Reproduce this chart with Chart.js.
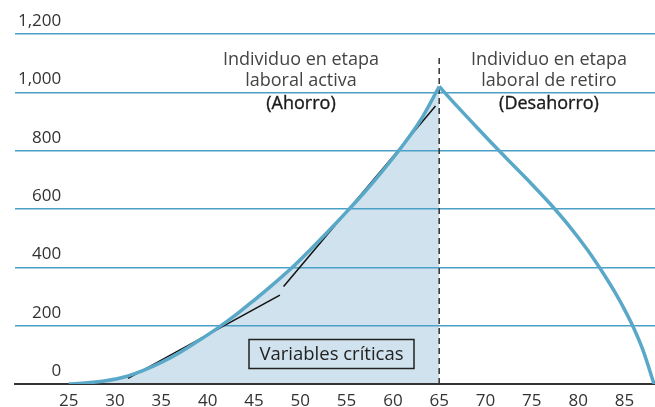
<!DOCTYPE html>
<html>
<head>
<meta charset="utf-8">
<script src="https://cdn.jsdelivr.net/npm/chart.js@4.4.1/dist/chart.umd.min.js"></script>
<style>
  html, body { margin: 0; padding: 0; background: #fff; }
  #wrap { width: 655px; height: 407px; }
</style>
</head>
<body>
<div id="wrap"><canvas id="grafico"></canvas></div>
<script>
// Etapa laboral activa (ahorro)
const edadesActiva = [25, 27, 29, 31, 33, 35, 37, 39, 41, 43, 45, 47, 49, 51, 53, 55, 57, 59, 61, 63, 65];
const ahorro       = [0, 4, 11, 24, 46, 74, 108, 148, 190, 236, 287, 340, 396, 458, 523, 590, 660, 735, 815, 905, 1020];

// Etapa de retiro (desahorro)
const edadesRetiro = [65, 67, 69, 71, 73, 75, 77, 79, 81, 83, 84, 85, 86, 87, 88.2];
const desahorro    = [1020, 950, 882, 815, 750, 685, 617, 543, 460, 365, 313, 256, 192, 116, 0];

// Rectas tangentes (variables críticas)
const tangente1X = [31.4, 47.8];
const tangente1Y = [19, 305];
const tangente2X = [48.2, 64.6];
const tangente2Y = [334, 953];

// Línea de jubilación
const jubilacionX = [65, 65];
const jubilacionY = [0, 1130];

const ticksX = [25, 30, 35, 40, 45, 50, 55, 60, 65, 70, 75, 80, 85];
const ticksY = [0, 200, 400, 600, 800, 1000, 1200];

const pares = (xs, ys) => xs.map((x, i) => ({ x: x, y: ys[i] }));

const FUENTE = '"Open Sans", "Noto Sans", sans-serif';
const AZUL = '#5aa8c8';

// textos del gráfico
const rotulos = {
    id: 'rotulos',
    afterDraw(chart) {
        const ctx = chart.ctx;
        ctx.save();
        ctx.textAlign = 'center';
        ctx.textBaseline = 'middle';

        ctx.fillStyle = '#444';
        ctx.font = '18px ' + FUENTE;
        ctx.fillText('Individuo en etapa', 301, 60);
        ctx.fillText('laboral activa', 301, 81);
        ctx.fillText('Individuo en etapa', 549, 60);
        ctx.fillText('laboral de retiro', 549, 81);

        // un poco más gruesos
        ctx.fillStyle = '#1a1a1a';
        ctx.strokeStyle = '#1a1a1a';
        ctx.lineWidth = 0.35;
        ctx.fillText('(Ahorro)', 301, 104);
        ctx.strokeText('(Ahorro)', 301, 104);
        ctx.fillText('(Desahorro)', 549, 104);
        ctx.strokeText('(Desahorro)', 549, 104);

        // recuadro
        ctx.strokeStyle = '#222';
        ctx.fillStyle = '#222';
        ctx.lineWidth = 1.5;
        ctx.strokeRect(249, 339.5, 165, 29);
        ctx.font = '18.5px ' + FUENTE;
        ctx.fillText('Variables críticas', 331.5, 354.5);
        ctx.restore();
    }
};

new Chart(document.getElementById('grafico'), {
    type: 'line',
    data: {
        datasets: [
            {
                data: pares(edadesActiva, ahorro),
                borderColor: AZUL,
                borderWidth: 3.5,
                backgroundColor: '#cfe2ed',
                fill: 'origin',
                cubicInterpolationMode: 'monotone',
                pointRadius: 0
            },
            {
                data: pares(edadesRetiro, desahorro),
                borderColor: AZUL,
                borderWidth: 3.5,
                fill: false,
                cubicInterpolationMode: 'monotone',
                pointRadius: 0
            },
            {
                data: pares(tangente1X, tangente1Y),
                borderColor: '#111',
                borderWidth: 1.5,
                fill: false,
                pointRadius: 0
            },
            {
                data: pares(tangente2X, tangente2Y),
                borderColor: '#111',
                borderWidth: 1.5,
                fill: false,
                pointRadius: 0
            },
            {
                data: pares(jubilacionX, jubilacionY),
                borderColor: '#333',
                borderWidth: 1.5,
                borderDash: [6, 4],
                fill: false,
                pointRadius: 0
            }
        ]
    },
    options: {
        responsive: true,
        maintainAspectRatio: false,
        animation: false,
        layout: { padding: { left: 3, right: 0, top: 34, bottom: 0 } },
        plugins: {
            legend: { display: false },
            tooltip: { enabled: false },
            filler: { drawTime: 'beforeDraw' }
        },
        scales: {
            x: {
                type: 'linear',
                min: 19.2,
                max: 88.3,
                afterBuildTicks: (s) => { s.ticks = ticksX.map(v => ({ value: v })); },
                afterFit: (s) => { s.height = 23; },
                grid: { display: false, drawTicks: false },
                border: { display: true, color: '#333', width: 2 },
                ticks: {
                    padding: 9,
                    color: '#333',
                    font: { family: FUENTE, size: 17, lineHeight: 1 },
                    maxRotation: 0,
                    autoSkip: false
                }
            },
            y: {
                min: 0,
                max: 1200,
                afterBuildTicks: (s) => { s.ticks = ticksY.map(v => ({ value: v })); },
                afterFit: (s) => { s.width = 12; },
                grid: {
                    drawTicks: false,
                    color: (c) => c.tick && c.tick.value === 0 ? 'rgba(0,0,0,0)' : '#4aa0c6',
                    lineWidth: 1.5
                },
                border: { display: false },
                ticks: {
                    mirror: true,
                    crossAlign: 'far',
                    padding: 3,
                    labelOffset: -13,
                    color: '#333',
                    font: { family: FUENTE, size: 17 },
                    callback: (v) => v.toLocaleString('en-US')
                }
            }
        }
    },
    plugins: [rotulos]
});
</script>
</body>
</html>
